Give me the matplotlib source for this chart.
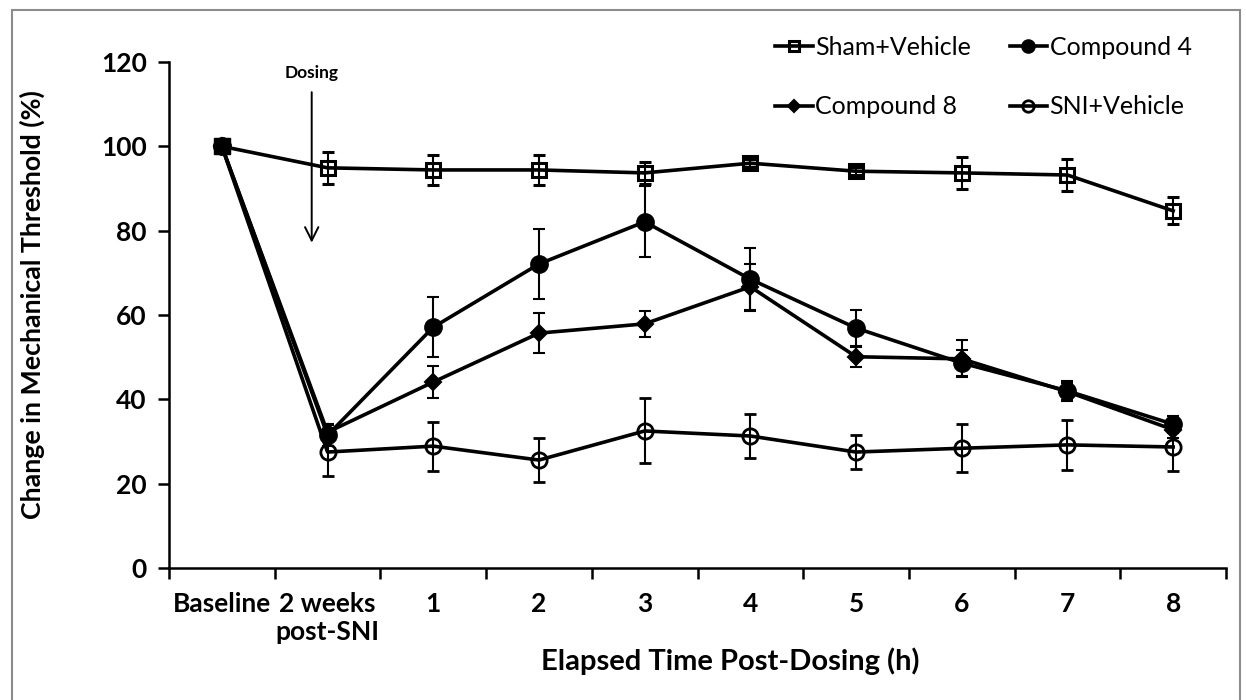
import matplotlib
matplotlib.use("Agg")
import matplotlib.pyplot as plt
import numpy as np
from matplotlib.patches import Rectangle
from matplotlib.lines import Line2D

categories = ["Baseline", "2 weeks\npost-SNI", "1", "2", "3", "4", "5", "6", "7", "8"]

sham_vals = [100, 94.9, 94.4, 94.4, 93.7, 96.0, 94.1, 93.7, 93.2, 84.7]
sham_err  = [0, 3.8, 3.5, 3.5, 2.6, 1.0, 1.0, 3.7, 3.8, 3.2]

c4_vals = [100, 31.5, 57.1, 72.1, 82.1, 68.5, 56.9, 48.6, 42.0, 34.1]
c4_err  = [0, 2.5, 7.1, 8.2, 8.4, 7.5, 4.2, 3.0, 2.4, 2.0]

c8_vals = [100, 32.2, 44.1, 55.7, 57.9, 66.7, 50.1, 49.6, 41.8, 32.8]
c8_err  = [0, 2.0, 3.8, 4.7, 3.0, 5.5, 2.4, 4.4, 2.0, 2.0]

sni_vals = [100, 27.5, 28.9, 25.6, 32.5, 31.3, 27.5, 28.4, 29.2, 28.7]
sni_err  = [0, 5.8, 5.8, 5.2, 7.7, 5.2, 4.0, 5.7, 6.0, 5.7]

yticks = [0, 20, 40, 60, 80, 100, 120]

FONT = "Lato"
plt.rcParams['font.family'] = [FONT, 'DejaVu Sans']

fig = plt.figure(figsize=(12.46, 7.0), dpi=100)
ax = fig.add_axes([169/1246, (700-568)/700, (1226-169)/1246, (568-62)/700])

x = np.arange(len(categories))

common = dict(color='black', lw=2.6, elinewidth=1.5, capsize=4.5, capthick=1.5, ecolor='black')

styles = {
    "sni": dict(marker='o', ms=11, mfc='none', mec='black', mew=2.0),
    "c8": dict(marker='D', ms=8.5, mfc='black', mec='black', mew=1.5),
    "c4": dict(marker='o', ms=12, mfc='black', mec='black', mew=1.5),
    "sham": dict(marker='s', ms=10, mfc='none', mec='black', mew=2.2),
}

ax.errorbar(x, sni_vals, yerr=sni_err, zorder=3, **styles["sni"], **common)
ax.errorbar(x, c8_vals, yerr=c8_err, zorder=4, **styles["c8"], **common)
ax.errorbar(x, c4_vals, yerr=c4_err, zorder=5, **styles["c4"], **common)
ax.errorbar(x, sham_vals, yerr=sham_err, zorder=6, **styles["sham"], **common)
# overlapping baseline points appear as a solid square
ax.plot(x[:1], sham_vals[:1], marker='s', ms=11, mfc='black', mec='black', ls='none', zorder=7)

ax.set_xlim(-0.5, len(categories) - 0.5)
ax.set_ylim(0, 120)
ax.set_yticks(yticks)
ax.set_yticklabels([str(v) for v in yticks], fontsize=19, fontweight='bold')
ax.set_xticks(x)
ax.set_xticklabels(categories, fontsize=19, fontweight='bold', linespacing=1.2)
ax.set_xticks(np.arange(len(categories) + 1) - 0.5, minor=True)
ax.tick_params(axis='x', which='major', length=0, pad=17)
ax.tick_params(axis='x', which='minor', length=8, width=1.8, direction='out')
ax.tick_params(axis='y', length=8, width=1.8, direction='out', pad=8)
for s in ['top', 'right']:
    ax.spines[s].set_visible(False)
for s in ['left', 'bottom']:
    ax.spines[s].set_linewidth(1.8)

ax.set_ylabel("Change in Mechanical Threshold (%)", fontsize=19.3, fontweight='bold')
ax.yaxis.set_label_coords((45-169)/1057, (568-305)/506)
fig.text(730/1246, 1 - 661/700, "Elapsed Time Post-Dosing (h)", fontsize=21, fontweight='bold',
         ha='center', va='center')

# Dosing arrow
ax.annotate("", xy=(0.85, 76.5), xytext=(0.85, 113.5),
            arrowprops=dict(arrowstyle='->', color='black', lw=1.4, mutation_scale=24))
ax.text(0.85, 117.5, "Dosing", fontsize=12.5, fontweight='bold', ha='center', va='center')

def handle(key):
    return Line2D([], [], color='black', lw=2.6, **styles[key])

handles = [handle("sham"), handle("c8"), handle("c4"), handle("sni")]
labels = ["Sham+Vehicle", "Compound 8", "Compound 4", "SNI+Vehicle"]
leg = fig.legend(handles, labels, ncol=2, frameon=False, fontsize=18,
                 loc='upper left', bbox_to_anchor=(765/1246, 1 - 26/700),
                 handlelength=1.5, handletextpad=0.1, columnspacing=1.55,
                 labelspacing=1.45, markerscale=0.75, borderaxespad=0)

# chart border
fig.patches.append(Rectangle((12/1246, -0.01), (1240-12)/1246, 1 - 10/700 + 0.01,
                             transform=fig.transFigure, fill=False, ec='#8c8c8c', lw=1.5))

fig.savefig("out.png", dpi=100)
